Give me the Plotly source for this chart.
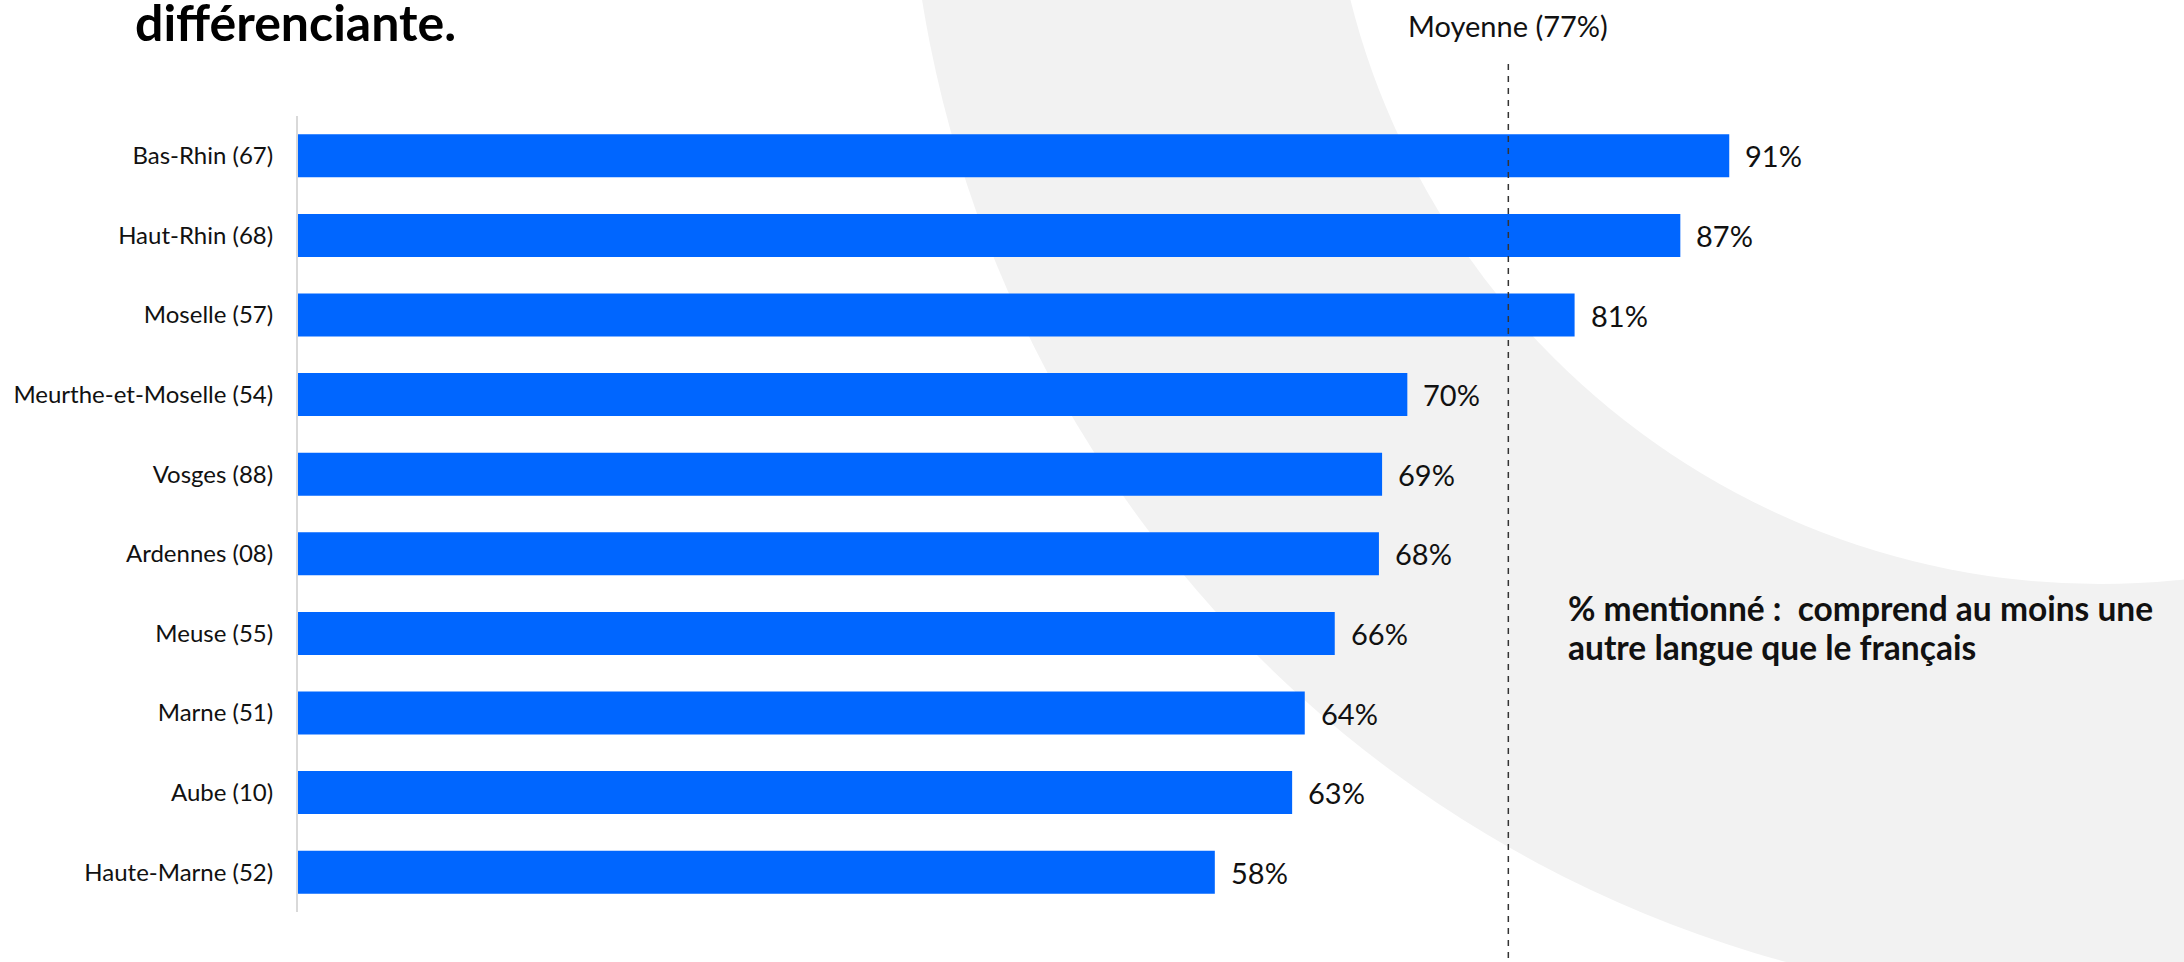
import numpy as np
import plotly.graph_objects as go

# ---------------- data ----------------
categories = ["Bas-Rhin (67)", "Haut-Rhin (68)", "Moselle (57)", "Meurthe-et-Moselle (54)",
              "Vosges (88)", "Ardennes (08)", "Meuse (55)", "Marne (51)", "Aube (10)",
              "Haute-Marne (52)"]
values = [90.7, 87.6, 80.9, 70.3, 68.7, 68.5, 65.7, 63.8, 63.0, 58.1]
value_labels = ["91%", "87%", "81%", "70%", "69%", "68%", "66%", "64%", "63%", "58%"]
average = 76.7
average_label = "Moyenne (77%)"
title_text = "différenciante."
note_lines = ["% mentionné :\u00a0 comprend au moins une", "autre langue que le français"]

# ---------------- layout geometry (pixels) ----------------
W, H = 2184, 962
L, T, B, R = 298, 116, 50, 86
plot_w = W - L - R
plot_h = H - T - B
px_per_unit = 15.78
xmax = plot_w / px_per_unit

def px_x(px):
    return (px - L) / plot_w

def px_y(py):
    return (H - B - py) / plot_h

FONT = "Lato"
BLUE = "#0066ff"
GREY_BG = "#f2f2f2"

fig = go.Figure()
fig.add_trace(go.Bar(
    x=values, y=categories, orientation="h",
    marker=dict(color=BLUE, line=dict(width=0)),
    hoverinfo="skip", showlegend=False,
))

annotations = []
for c, v, lab in zip(categories, values, value_labels):
    annotations.append(dict(
        x=v, y=c, xref="x", yref="y", text=lab, showarrow=False,
        xanchor="left", yanchor="middle", xshift=14,
        font=dict(family=FONT, size=29, color="#111111"),
    ))

annotations.append(dict(
    x=average, xref="x", y=px_y(25), yref="paper", text=average_label,
    showarrow=False, xanchor="center", yanchor="middle",
    font=dict(family=FONT, size=29, color="#111111"),
))
annotations.append(dict(
    x=px_x(133), xref="paper", y=px_y(54), yref="paper", text="<b>" + title_text + "</b>",
    showarrow=False, xanchor="left", yanchor="bottom",
    font=dict(family=FONT, size=50, color="#000000"),
))
for line, ypx in zip(note_lines, [608, 647]):
    annotations.append(dict(
        x=px_x(1566), xref="paper", y=px_y(ypx), yref="paper",
        text="<b>" + line + "</b>",
        showarrow=False, xanchor="left", yanchor="middle", align="left",
        font=dict(family=FONT, size=33.5, color="#111111"),
    ))

# background ring (decoration)
cx, cy = 2100, -189
r_out, r_in = 1193, 773
shapes = [
    dict(type="circle", xref="paper", yref="paper", layer="below",
         x0=px_x(cx - r_out), x1=px_x(cx + r_out), y0=px_y(cy + r_out), y1=px_y(cy - r_out),
         fillcolor=GREY_BG, line=dict(width=0)),
    dict(type="circle", xref="paper", yref="paper", layer="below",
         x0=px_x(cx - r_in), x1=px_x(cx + r_in), y0=px_y(cy + r_in), y1=px_y(cy - r_in),
         fillcolor="#ffffff", line=dict(width=0)),
    dict(type="line", xref="x", yref="paper", x0=average, x1=average,
         y0=px_y(H + 20), y1=px_y(60), layer="above",
         line=dict(color="#333333", width=1.5, dash="6px,6px")),
]

fig.update_layout(
    width=W, height=H,
    margin=dict(l=L, r=R, t=T, b=B, autoexpand=False),
    paper_bgcolor="#ffffff", plot_bgcolor="rgba(0,0,0,0)",
    bargap=0.46,
    annotations=annotations, shapes=shapes,
    font=dict(family=FONT, color="#111111"),
    xaxis=dict(range=[0, xmax], visible=False, fixedrange=True),
    yaxis=dict(autorange="reversed", showline=True, linecolor="#d9d9d9", linewidth=2,
               ticks="", showgrid=False, ticklabelstandoff=18, fixedrange=True,
               tickfont=dict(family=FONT, size=24, color="#111111")),
)

fig.write_html("out.html", config={"displayModeBar": False},
               post_script="document.body.style.margin='0';document.body.style.padding='0';")
